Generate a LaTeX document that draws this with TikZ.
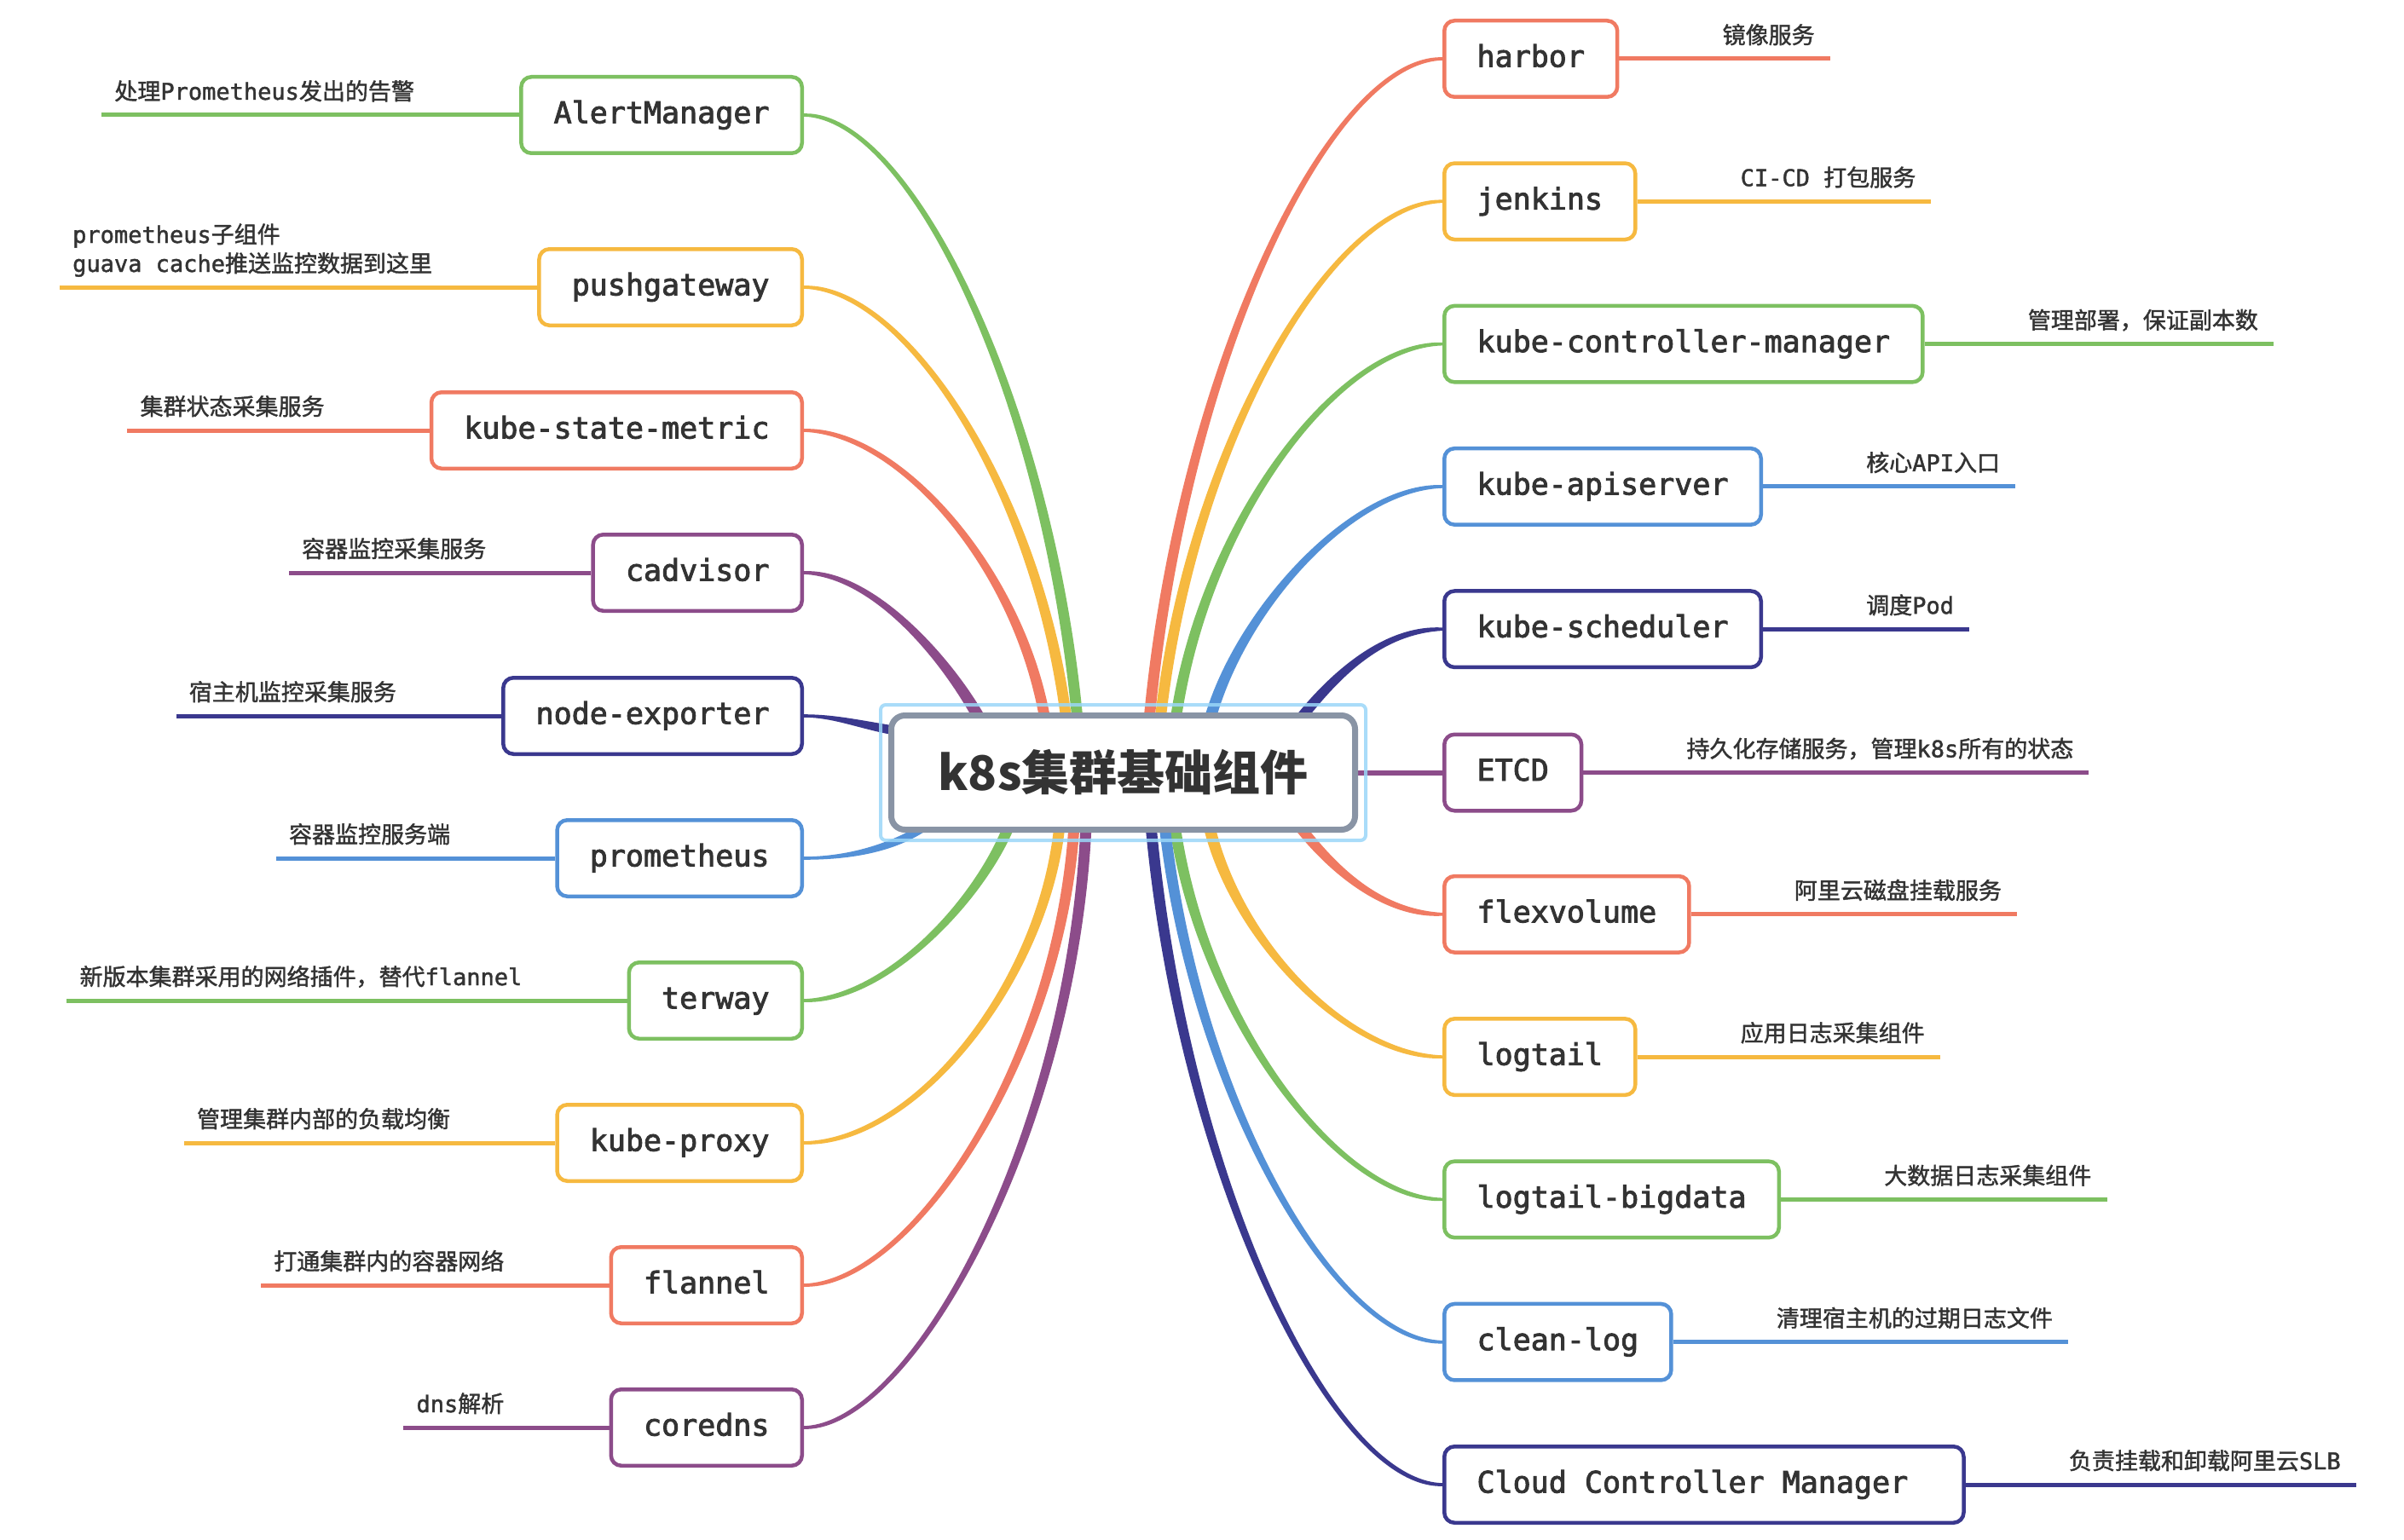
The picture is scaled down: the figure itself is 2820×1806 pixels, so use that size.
\documentclass[tikz,border=0pt]{standalone}
\usepackage{fontspec}
\usetikzlibrary{calc}
\newfontfamily\monof{DejaVu Sans Mono}[FakeBold=2.5]
\newfontfamily\monol{DejaVu Sans Mono}[FakeBold=1.5]
\newfontfamily\cjk{Noto Sans CJK SC}[FakeBold=1.5]
\newfontfamily\cjkhub{Noto Sans CJK SC}
\definecolor{cg}{HTML}{7DC061}
\definecolor{cy}{HTML}{F6B940}
\definecolor{cr}{HTML}{F07A62}
\definecolor{cp}{HTML}{8C4C8A}
\definecolor{cn}{HTML}{3A388E}
\definecolor{cb}{HTML}{5491D7}
\definecolor{hubgray}{HTML}{8994A5}
\definecolor{selblue}{HTML}{9AD7F8}
\definecolor{txt}{HTML}{333333}
\pgfdeclarelayer{bg}
\pgfsetlayers{bg,main}
\def\mmmid{5.5}
% tapered branch: color, start half width, end half width, start, control1, dx of control2, end, start sign, end sign
\newcommand\mmbranch[9]{%
  \fill[#1] ($#4 #8 (#2,0)$) .. controls ($#5 #8 (#2,0)$) and ($#7 + (#6,0) #9 (0,\mmmid)$) .. ($#7 #9 (0,#3)$)
    -- ($#7 #9 (0,-#3)$) .. controls ($#7 + (#6,0) #9 (0,-\mmmid)$) and ($#5 #8 (-#2,0)$) .. ($#4 #8 (-#2,0)$) -- cycle;}
\newcommand\mmhbranch[7]{%
  \fill[#1] ($#4+(0,#2)$) .. controls ($#5+(0,#2)$) and ($#7+(#6,#3)$) .. ($#7+(0,#3)$)
    -- ($#7+(0,-#3)$) .. controls ($#7+(#6,-#3)$) and ($#5+(0,-#2)$) .. ($#4+(0,-#2)$) -- cycle;}
\tikzset{
  mmbox/.style={draw, line width=4.5pt, rounded corners=12pt, fill=white, minimum height=89.5pt,
    inner xsep=38.25pt, inner ysep=0pt, text height=26pt, text depth=7pt, text=txt,
    font=\monof\fontsize{35}{42}\selectfont},
  lbox/.style={mmbox, anchor=east},
  rbox/.style={mmbox, anchor=west},
  dlab/.style={inner sep=0pt, text=txt, font=\monol\fontsize{27}{34}\selectfont},
  dline/.style={line width=5pt},
  hubbox/.style={draw=hubgray, line width=7pt, rounded corners=16pt, fill=white,
    minimum width=544pt, minimum height=134pt, inner sep=0pt, text=txt,
    font=\cjkhub\bfseries\fontsize{56}{64}\selectfont},
  selframe/.style={draw=selblue, line width=4pt, rounded corners=6pt, opacity=0.85}
}
\begin{document}
\begin{tikzpicture}[x=1pt,y=-1pt]
\useasboundingbox (0,0) rectangle (2820,1806);
% central topic
\node[hubbox] (hub) at (1317.5,906.5) {k8s集群基础组件};
\draw[selframe] ([xshift=-9pt,yshift=9pt]hub.north west) rectangle ([xshift=9pt,yshift=-9pt]hub.south east);
% right topics
\node[rbox, draw=cr] (harbor) at (1692,69) {harbor};
\node[rbox, draw=cy] (jenkins) at (1692,236.3) {jenkins};
\node[rbox, draw=cg] (kcm) at (1692,403.6) {kube-controller-manager};
\node[rbox, draw=cb] (api) at (1692,570.9) {kube-apiserver};
\node[rbox, draw=cn] (sch) at (1692,738.2) {kube-scheduler};
\node[rbox, draw=cp] (etcd) at (1692,906.5) {ETCD};
\node[rbox, draw=cr] (flex) at (1692,1072.8) {flexvolume};
\node[rbox, draw=cy] (logtail) at (1692,1240.1) {logtail};
\node[rbox, draw=cg] (bigdata) at (1692,1407.4) {logtail-bigdata};
\node[rbox, draw=cb] (clean) at (1692,1574.7) {clean-log};
\node[rbox, draw=cn] (ccm) at (1692,1742) {Cloud Controller Manager\hspace*{27pt}};
% left topics
\node[lbox, draw=cg] (am) at (943,135) {AlertManager};
\node[lbox, draw=cy] (pg) at (943,337) {pushgateway};
\node[lbox, draw=cr] (ksm) at (943,505) {kube-state-metric};
\node[lbox, draw=cp] (cad) at (943,672) {cadvisor};
\node[lbox, draw=cn] (ne) at (943,840) {node-exporter};
\node[lbox, draw=cb] (prom) at (943,1007) {prometheus};
\node[lbox, draw=cg] (terway) at (943,1174) {terway};
\node[lbox, draw=cy] (kp) at (943,1341) {kube-proxy};
\node[lbox, draw=cr] (fl) at (943,1508) {flannel};
\node[lbox, draw=cp] (cd) at (943,1675) {coredns};
% right labels
\node[dlab, anchor=base west] (lharbor) at ([xshift=121pt,yshift=18pt]harbor.east) {{\cjk 镜像服务}};
\node[dlab, anchor=base west] (ljenkins) at ([xshift=121pt,yshift=18pt]jenkins.east) {CI-CD {\cjk 打包服务}};
\node[dlab, anchor=base west] (lkcm) at ([xshift=121pt,yshift=18pt]kcm.east) {{\cjk 管理部署，保证副本数}};
\node[dlab, anchor=base west] (lapi) at ([xshift=121pt,yshift=18pt]api.east) {{\cjk 核心}API{\cjk 入口}};
\node[dlab, anchor=base west] (lsch) at ([xshift=121pt,yshift=18pt]sch.east) {{\cjk 调度}Pod};
\node[dlab, anchor=base west] (letcd) at ([xshift=121pt,yshift=18pt]etcd.east) {{\cjk 持久化存储服务，管理}k8s{\cjk 所有的状态}};
\node[dlab, anchor=base west] (lflex) at ([xshift=121pt,yshift=18pt]flex.east) {{\cjk 阿里云磁盘挂载服务}};
\node[dlab, anchor=base west] (llogtail) at ([xshift=121pt,yshift=18pt]logtail.east) {{\cjk 应用日志采集组件}};
\node[dlab, anchor=base west] (lbigdata) at ([xshift=121pt,yshift=18pt]bigdata.east) {{\cjk 大数据日志采集组件}};
\node[dlab, anchor=base west] (lclean) at ([xshift=121pt,yshift=18pt]clean.east) {{\cjk 清理宿主机的过期日志文件}};
\node[dlab, anchor=base west] (lccm) at ([xshift=121pt,yshift=18pt]ccm.east) {{\cjk 负责挂载和卸载阿里云}SLB};
% left labels
\node[dlab, anchor=base east] (lam) at ([xshift=-123pt,yshift=18pt]am.west) {{\cjk 处理}Prometheus{\cjk 发出的告警}};
\node[dlab, anchor=base east] (lpg2) at ([xshift=-123pt,yshift=18pt]pg.west) {guava cache{\cjk 推送监控数据到这里}};
\node[dlab, anchor=base west] (lpg1) at ([yshift=34pt]lpg2.base west) {prometheus{\cjk 子组件}};
\node[dlab, anchor=base east] (lksm) at ([xshift=-123pt,yshift=18pt]ksm.west) {{\cjk 集群状态采集服务}};
\node[dlab, anchor=base east] (lcad) at ([xshift=-123pt,yshift=18pt]cad.west) {{\cjk 容器监控采集服务}};
\node[dlab, anchor=base east] (lne) at ([xshift=-123pt,yshift=18pt]ne.west) {{\cjk 宿主机监控采集服务}};
\node[dlab, anchor=base east] (lprom) at ([xshift=-123pt,yshift=18pt]prom.west) {{\cjk 容器监控服务端}};
\node[dlab, anchor=base east] (lterway) at ([xshift=-123pt,yshift=18pt]terway.west) {{\cjk 新版本集群采用的网络插件，替代}flannel};
\node[dlab, anchor=base east] (lkp) at ([xshift=-123pt,yshift=18pt]kp.west) {{\cjk 管理集群内部的负载均衡}};
\node[dlab, anchor=base east] (lfl) at ([xshift=-123pt,yshift=18pt]fl.west) {{\cjk 打通集群内的容器网络}};
\node[dlab, anchor=base east] (lcd) at ([xshift=-123pt,yshift=18pt]cd.west) {dns{\cjk 解析}};
\begin{pgfonlayer}{bg}
\fill[white] (0,0) rectangle (2820,1806);
% branches right top
\mmbranch{cr}{6.5}{1.8}{(1348,845)}{(1386,434)}{-134}{(harbor.west)}{-}{-}
\mmbranch{cy}{6.5}{1.8}{(1361,845)}{(1397,522)}{-129}{(jenkins.west)}{-}{-}
\mmbranch{cg}{6.5}{1.8}{(1379,845)}{(1413,611)}{-122}{(kcm.west)}{-}{-}
\mmbranch{cb}{7}{1.8}{(1419,845)}{(1455,715)}{-106}{(api.west)}{-}{-}
\mmbranch{cn}{8}{1.8}{(1524,845)}{(1575,780)}{-62}{(sch.west)}{-}{-}
% right bottom
\mmbranch{cr}{8}{1.8}{(1523,968)}{(1572,1032)}{-62}{(flex.west)}{+}{-}
\mmbranch{cy}{7}{1.8}{(1418,968)}{(1452,1110)}{-107}{(logtail.west)}{+}{-}
\mmbranch{cg}{6.5}{1.8}{(1378,968)}{(1412,1200)}{-120}{(bigdata.west)}{+}{-}
\mmbranch{cb}{6.5}{1.8}{(1366,968)}{(1402,1285)}{-127}{(clean.west)}{+}{-}
\mmbranch{cn}{6.5}{1.8}{(1350,968)}{(1387,1375)}{-132}{(ccm.west)}{+}{-}
\draw[cp, line width=6pt] (hub.east) -- (etcd.west);
% left top
\mmbranch{cg}{6.5}{1.8}{(1264,845)}{(1229,469)}{125}{(am.east)}{-}{+}
\mmbranch{cy}{6.5}{1.8}{(1251,845)}{(1217,576)}{120}{(pg.east)}{-}{+}
\mmbranch{cr}{6.5}{1.8}{(1226,845)}{(1195,665)}{110}{(ksm.east)}{-}{+}
\mmbranch{cp}{8}{1.8}{(1150,845)}{(1112,775)}{82}{(cad.east)}{-}{+}
\mmhbranch{cn}{5.5}{1.8}{(1055,858)}{(1010,851)}{37}{(ne.east)}
\mmhbranch{cb}{5.5}{1.8}{(1085,970)}{(1045,996)}{50}{(prom.east)}
% left bottom
\mmbranch{cg}{7}{1.8}{(1184,968)}{(1150,1055)}{97}{(terway.east)}{+}{+}
\mmbranch{cy}{6.5}{1.8}{(1243,968)}{(1225,1150)}{132}{(kp.east)}{+}{+}
\mmbranch{cr}{6.5}{1.8}{(1260,968)}{(1243,1245)}{125}{(fl.east)}{+}{+}
\mmbranch{cp}{6.5}{1.8}{(1274,968)}{(1258,1330)}{127}{(cd.east)}{+}{+}
% description lines right
\draw[dline, cr] (harbor.east) -- (harbor.east -| lharbor.east) -- ++(18,0);
\draw[dline, cy] (jenkins.east) -- (jenkins.east -| ljenkins.east) -- ++(18,0);
\draw[dline, cg] (kcm.east) -- (kcm.east -| lkcm.east) -- ++(18,0);
\draw[dline, cb] (api.east) -- (api.east -| lapi.east) -- ++(18,0);
\draw[dline, cn] (sch.east) -- (sch.east -| lsch.east) -- ++(18,0);
\draw[dline, cp] (etcd.east) -- (etcd.east -| letcd.east) -- ++(18,0);
\draw[dline, cr] (flex.east) -- (flex.east -| lflex.east) -- ++(18,0);
\draw[dline, cy] (logtail.east) -- (logtail.east -| llogtail.east) -- ++(18,0);
\draw[dline, cg] (bigdata.east) -- (bigdata.east -| lbigdata.east) -- ++(18,0);
\draw[dline, cb] (clean.east) -- (clean.east -| lclean.east) -- ++(18,0);
\draw[dline, cn] (ccm.east) -- (ccm.east -| lccm.east) -- ++(18,0);
% description lines left
\draw[dline, cg] (am.west) -- (am.west -| lam.west) -- ++(-15,0);
\draw[dline, cy] (pg.west) -- (pg.west -| lpg2.west) -- ++(-15,0);
\draw[dline, cr] (ksm.west) -- (ksm.west -| lksm.west) -- ++(-15,0);
\draw[dline, cp] (cad.west) -- (cad.west -| lcad.west) -- ++(-15,0);
\draw[dline, cn] (ne.west) -- (ne.west -| lne.west) -- ++(-15,0);
\draw[dline, cb] (prom.west) -- (prom.west -| lprom.west) -- ++(-15,0);
\draw[dline, cg] (terway.west) -- (terway.west -| lterway.west) -- ++(-15,0);
\draw[dline, cy] (kp.west) -- (kp.west -| lkp.west) -- ++(-15,0);
\draw[dline, cr] (fl.west) -- (fl.west -| lfl.west) -- ++(-15,0);
\draw[dline, cp] (cd.west) -- (cd.west -| lcd.west) -- ++(-15,0);
\end{pgfonlayer}
\end{tikzpicture}
\end{document}
